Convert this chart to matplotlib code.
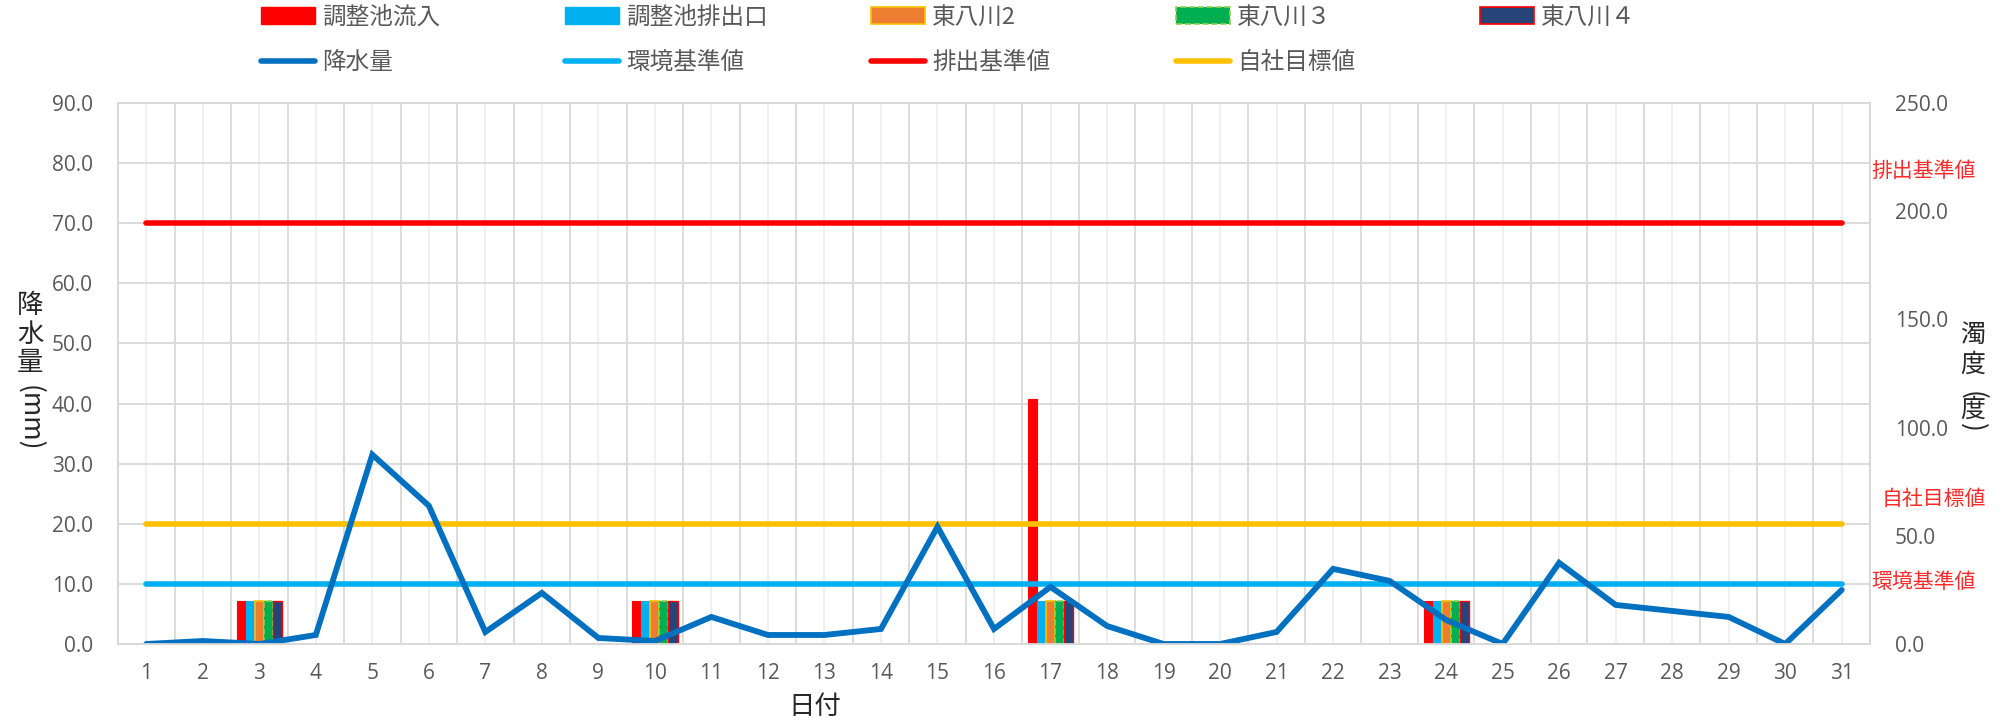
import numpy as np
import matplotlib.pyplot as plt
from matplotlib.patches import Patch
from matplotlib.lines import Line2D

plt.rcParams['font.family'] = ['Noto Sans CJK JP', 'DejaVu Sans']

# data
days = list(range(1, 32))
rain = [0.0, 0.5, 0.0, 1.5, 31.5, 23.0, 2.0, 8.5, 1.0, 0.5,
        4.5, 1.5, 1.5, 2.5, 19.5, 2.5, 9.5, 3.0, 0.0, 0.0,
        2.0, 12.5, 10.5, 4.0, 0.0, 13.5, 6.5, 5.5, 4.5, 0.0, 9.0]

measure_days = [3, 10, 17, 24]
inflow = [20, 20, 113, 20]      # 調整池流入
outlet = [20, 20, 20, 20]       # 調整池排出口
higashi2 = [20, 20, 20, 20]     # 東八川2
higashi3 = [20, 20, 20, 20]     # 東八川３
higashi4 = [20, 20, 20, 20]     # 東八川４

env_std = 10.0        # 環境基準値
discharge_std = 70.0  # 排出基準値
target = 20.0         # 自社目標値

W, H = 2015, 723
GRAY = '#595959'
GRID = '#D9D9D9'

fig = plt.figure(figsize=(W / 100, H / 100), dpi=100)
ax = fig.add_axes([118 / W, 1 - 644 / H, (1870 - 118) / W, (644 - 103) / H])
ax2 = ax.twinx()
ax.set_zorder(2)
ax2.set_zorder(1)
ax.patch.set_visible(False)
ax2.patch.set_visible(True)
ax2.patch.set_facecolor('white')
ax2.xaxis.set_visible(True)

# bars (turbidity, right axis)
bar_series = [
    (inflow, dict(color='#FF0000', edgecolor='#FF0000', linewidth=0.8)),
    (outlet, dict(color='#00B0F0', edgecolor='#00B0F0', linewidth=0.8)),
    (higashi2, dict(color='#ED7D31', edgecolor='#FFC000', linewidth=1.2)),
    (higashi3, dict(color='#00B050', edgecolor='#92D050', linewidth=1.2, linestyle='--')),
    (higashi4, dict(color='#264478', edgecolor='#FF0000', linewidth=1.0)),
]
w = 0.16
md = np.array(measure_days, dtype=float)
for i, (vals, style) in enumerate(bar_series):
    ax2.bar(md + (i - 2) * w, vals, width=w, zorder=3, **style)

# lines (left axis)
x = np.array(days)
ax.plot(x, np.full(len(x), discharge_std), color='#FF0000', lw=4, solid_capstyle='round')
ax.plot(x, np.full(len(x), target), color='#FFC000', lw=4, solid_capstyle='round')
ax.plot(x, np.full(len(x), env_std), color='#00B0F0', lw=4, solid_capstyle='round')
ax.plot(x, rain, color='#0070C0', lw=4.2, solid_capstyle='round', solid_joinstyle='miter')

ax.set_xlim(0.5, 31.5)
ax.set_ylim(0, 90)
ax2.set_ylim(0, 250)
ax.set_yticks(np.arange(0, 91, 10))
ax.set_yticklabels([f'{v:.1f}' for v in np.arange(0, 91, 10)])
ax2.set_yticks(np.arange(0, 251, 50))
ax2.set_yticklabels([f'{v:.1f}' for v in np.arange(0, 251, 50)])
ax.set_xticks(days)
ax.set_xticklabels([str(d) for d in days])
ax.set_xticks(np.arange(0.5, 32, 1), minor=True)

# grid drawn on the bottom axes so bars sit above it
ax2.set_yticks(np.arange(0, 91, 10) * 250 / 90, minor=True)
ax2.set_axisbelow(True)
ax2.grid(which='minor', axis='x', color=GRID, lw=1.3)
ax2.grid(which='major', axis='x', color='#EFEFEF', lw=1.3)
ax2.grid(which='minor', axis='y', color=GRID, lw=1.3)
ax2.tick_params(axis='x', which='both', length=0, labelbottom=False, labeltop=False)
ax2.tick_params(axis='y', which='minor', length=0)

ax.tick_params(axis='both', which='both', length=0, colors=GRAY)
ax.tick_params(axis='y', pad=18)
ax.tick_params(axis='x', pad=14)
ax2.tick_params(axis='y', which='major', length=0, colors=GRAY, pad=18)
for lab in ax.get_xticklabels() + ax.get_yticklabels() + ax2.get_yticklabels():
    lab.set_fontfamily(['Open Sans', 'DejaVu Sans'])
    lab.set_fontsize(15)
for a in (ax, ax2):
    for s in a.spines.values():
        s.set_color(GRID)
        s.set_linewidth(1.3)

# axis titles (stacked, Excel-style vertical text)
def vtext(xp, ys, chars, size=19, rot=0):
    for yp, ch in zip(ys, chars):
        fig.text(xp / W, 1 - yp / H, ch, ha='center', va='center', fontsize=size,
                 color='#262626', rotation=rot)

vtext(30, [305, 334, 363], ['降', '水', '量'])
vtext(30, [418], ['(mm)'], rot=270)
vtext(1973, [335, 365, 410], ['濁', '度', '度'], size=18)
vtext(1973, [395, 427], ['(', ')'], size=19, rot=270)
fig.text(815 / W, 1 - 707 / H, '日付', ha='center', va='center', fontsize=19, color='#262626')

# standard labels on the right
for label, xp, yp in [('排出基準値', 1924, 171), ('自社目標値', 1934, 499), ('環境基準値', 1924, 582)]:
    fig.text(xp / W, 1 - yp / H, label, ha='center', va='center', fontsize=15, color='#FF2A2A')

# legend, one column at a time
cols = [
    (261, [Patch(facecolor='#FF0000', edgecolor='#FF0000'),
           Line2D([], [], color='#0070C0', lw=4, solid_capstyle='round')],
     ['調整池流入', '降水量']),
    (565, [Patch(facecolor='#00B0F0', edgecolor='#00B0F0'),
           Line2D([], [], color='#00B0F0', lw=4, solid_capstyle='round')],
     ['調整池排出口', '環境基準値']),
    (871, [Patch(facecolor='#ED7D31', edgecolor='#FFC000', lw=1.2),
           Line2D([], [], color='#FF0000', lw=4, solid_capstyle='round')],
     ['東八川2', '排出基準値']),
    (1176, [Patch(facecolor='#00B050', edgecolor='#92D050', lw=1.2, linestyle='--'),
            Line2D([], [], color='#FFC000', lw=4, solid_capstyle='round')],
     ['東八川３', '自社目標値']),
    (1480, [Patch(facecolor='#264478', edgecolor='#FF0000', lw=1.2)],
     ['東八川４']),
]
for xp, handles, labels in cols:
    fig.legend(handles, labels, loc='upper left', bbox_to_anchor=(xp / W, 1 - 6 / H),
               frameon=False, fontsize=17, labelcolor=GRAY, handlelength=2.3,
               handletextpad=0.3, borderpad=0, borderaxespad=0, labelspacing=0.95)

fig.savefig('out.png', dpi=100)
